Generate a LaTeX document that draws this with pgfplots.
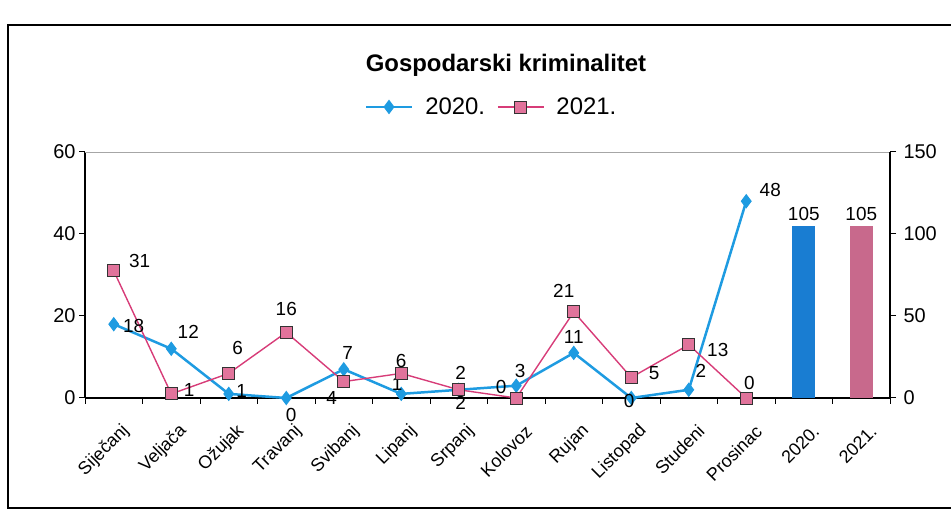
\documentclass[border=0pt]{standalone}
\usepackage{pgfplots}
\pgfplotsset{compat=1.18}
\usepackage{pgfplotstable}
\usepackage{fontspec}
\setmainfont{Liberation Sans}
\definecolor{blueline}{RGB}{30,155,225}
\definecolor{bluebar}{RGB}{25,125,210}
\definecolor{pinkline}{RGB}{215,60,120}
\definecolor{pinkfill}{RGB}{225,115,155}
\definecolor{pinkbar}{RGB}{200,105,140}

\pgfplotstableread{
x y dx dy
0 18 20 -2
1 12 17 17
2 1 13 3
3 0 5 -17
4 7 4 16
5 1 -4 10
6 2 2 -13
7 3 4 15
8 11 0 16
9 0 -2 -3
10 2 12 19
11 48 24 11
}\tA

\pgfplotstableread{
x y dx dy
0 31 26 10
1 1 18 4
2 6 9 25
3 16 0 23
4 4 -12 -16
5 6 0 12
6 2 2 17
7 0 -15 11
8 21 -10 21
9 5 23 4
10 13 29 -5
11 0 3 15
}\tB

\pgfplotstableread{
x y
12 105
}\tC
\pgfplotstableread{
x y
13 105
}\tD

\begin{document}
\begin{tikzpicture}[x=1bp,y=1bp]
\useasboundingbox (0,0) rectangle (951,515);
\draw[black, line width=1.2bp] (960,490) -- (8,490) -- (8,7) -- (960,7);
\node[font=\bfseries\fontsize{24}{28}\selectfont] at (506,450) {Gospodarski kriminalitet};

\begin{axis}[
  at={(85bp,117bp)}, anchor=south west,
  width=805bp, height=246bp, scale only axis,
  xmin=-0.5, xmax=13.5, ymin=0, ymax=60,
  axis x line*=bottom, axis y line*=left,
  axis line style={black, line width=1.2bp},
  ytick={0,20,40,60},
  xtick={0,...,13},
  xticklabels={Siječanj,Veljača,Ožujak,Travanj,Svibanj,Lipanj,Srpanj,Kolovoz,Rujan,Listopad,Studeni,Prosinac,2020.,2021.},
  major x tick style={draw=none},
  minor xtick={-0.5,0.5,...,13.5},
  minor tick length=6bp, major tick length=6bp,
  tick align=outside,
  tick style={black, line width=1bp},
  /pgf/number format/assume math mode=true,
  yticklabel style={font=\fontsize{20}{24}\selectfont},
  xticklabel style={font=\fontsize{18}{21}\selectfont, rotate=45, anchor=east, yshift=-26bp, xshift=-5bp},
  legend style={at={(0.505,1.183)}, anchor=center, draw=none, fill=none,
    font=\fontsize{24}{28}\selectfont, column sep=10bp},
  legend columns=2,
  legend image code/.code={\draw[mark repeat=2,mark phase=2] plot coordinates {(0bp,0bp)(23bp,0bp)(46bp,0bp)};},
  clip=false,
]
\draw[gray!70, line width=0.8bp] (rel axis cs:0,1) -- (rel axis cs:1,1);
\addplot[blueline, line width=2.5bp, mark=diamond*, mark size=6.5bp,
  mark options={fill=blueline, draw=blueline, line width=1bp},
  point meta=y,
  nodes near coords={\pgfmathprintnumber\pgfplotspointmeta},
  visualization depends on={\thisrow{dx}\as\dx},
  visualization depends on={\thisrow{dy}\as\dy},
  every node near coord/.append style={anchor=center, xshift=\dx bp, yshift=\dy bp,
    text=black, font=\fontsize{19}{22}\selectfont},
] table[x=x,y=y]{\tA};
\addlegendentry{2020.}
\addplot[pinkline, line width=1.4bp, mark=square*, mark size=6bp,
  mark options={fill=pinkfill, draw=black!80, line width=0.9bp},
  point meta=y,
  nodes near coords={\pgfmathprintnumber\pgfplotspointmeta},
  visualization depends on={\thisrow{dx}\as\dx},
  visualization depends on={\thisrow{dy}\as\dy},
  every node near coord/.append style={anchor=center, xshift=\dx bp, yshift=\dy bp,
    text=black, font=\fontsize{19}{22}\selectfont},
] table[x=x,y=y]{\tB};
\addlegendentry{2021.}
\end{axis}

\begin{axis}[
  at={(85bp,117bp)}, anchor=south west,
  width=805bp, height=246bp, scale only axis,
  xmin=-0.5, xmax=13.5, ymin=0, ymax=150,
  axis x line=none, axis y line*=right,
  axis line style={black, line width=1.2bp},
  ytick={0,50,100,150},
  major tick length=6bp, tick align=outside,
  tick style={black, line width=1bp},
  /pgf/number format/assume math mode=true,
  yticklabel style={font=\fontsize{20}{24}\selectfont, xshift=4bp},
  clip=false,
]
\addplot[ybar, bar width=23bp, bar shift=0pt, fill=bluebar, draw=none,
  nodes near coords, every node near coord/.append style={text=black, font=\fontsize{19}{22}\selectfont, yshift=2bp}] table[x=x,y=y]{\tC};
\addplot[ybar, bar width=23bp, bar shift=0pt, fill=pinkbar, draw=none,
  nodes near coords, every node near coord/.append style={text=black, font=\fontsize{19}{22}\selectfont, yshift=2bp}] table[x=x,y=y]{\tD};
\end{axis}
\end{tikzpicture}
\end{document}
